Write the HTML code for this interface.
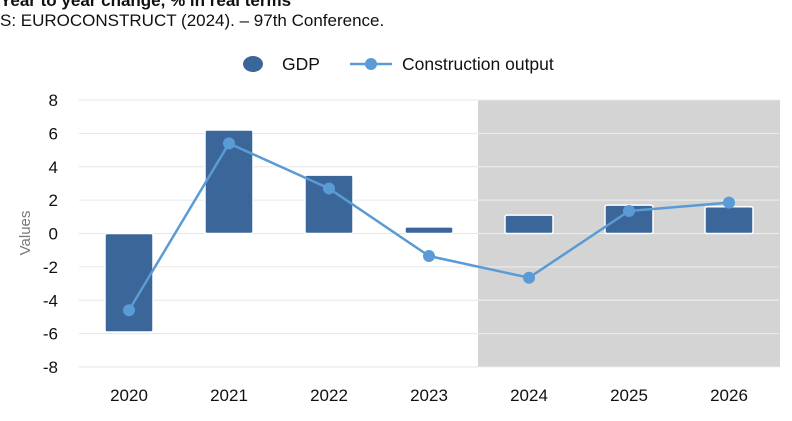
<!DOCTYPE html>
<html><head><meta charset="utf-8"><style>
body{margin:0;background:#fff;font-family:"Liberation Sans",Arial,sans-serif;}
svg text{font-family:"Liberation Sans",Arial,sans-serif;}
</style></head><body>
<svg width="792" height="416" xmlns="http://www.w3.org/2000/svg" id="chart">
<text x="0" y="6" font-size="17" font-weight="bold" fill="#111">Year to year change, % in real terms</text>
<text x="0" y="26" font-size="17" fill="#111">S: EUROCONSTRUCT (2024). – 97th Conference.</text>
<g>
<ellipse cx="253" cy="64" rx="10" ry="8" fill="#3a6699"/>
<text x="282" y="70" font-size="17.5" fill="#111">GDP</text>
<line x1="350" y1="64" x2="392" y2="64" stroke="#5b9bd5" stroke-width="2.5"/>
<circle cx="371" cy="64" r="6" fill="#5b9bd5"/>
<text x="402" y="70" font-size="17.5" fill="#111">Construction output</text>
</g>
<rect x="478" y="100" width="302" height="267" fill="#d4d4d4"/>
<g id="grid"></g>
<g id="bars"></g>
<g id="line"></g>
<g id="axes"></g>
<text transform="translate(30,233) rotate(-90)" text-anchor="middle" font-size="15" fill="#777">Values</text>
</svg>
<script>
const categories=["2020","2021","2022","2023","2024","2025","2026"];
const gdp=[-5.9,6.2,3.5,0.4,1.1,1.7,1.6];
const construction=[-4.6,5.4,2.7,-1.35,-2.65,1.35,1.85];
const yTicks=[8,6,4,2,0,-2,-4,-6,-8];
const NS="http://www.w3.org/2000/svg";
const L=79,R=779,T=100,B=367,yMin=-8,yMax=8;
const y=v=>T+(yMax-v)/(yMax-yMin)*(B-T);
const bw=(R-L)/categories.length;
const x=i=>L+bw*(i+0.5);
function mk(t,a,p){const e=document.createElementNS(NS,t);for(const k in a)e.setAttribute(k,a[k]);document.getElementById(p).appendChild(e);return e;}
yTicks.forEach(v=>{
 const g=mk("line",{x1:L,x2:R,y1:y(v),y2:y(v),stroke:"#e6e6e6","stroke-width":1},"grid");
 
 
 const g2=mk("line",{x1:478,x2:R,y1:y(v),y2:y(v),stroke:"#ececec","stroke-width":1},"grid");
 
 
 const t=mk("text",{x:58,y:y(v)+6,"text-anchor":"end","font-size":17,fill:"#111"},"axes");
 t.textContent=v;
 
 
});
categories.forEach((c,i)=>{
 const v=gdp[i];
 const top=Math.min(y(v),y(0)),h=Math.abs(y(v)-y(0));
 const b=mk("rect",{x:x(i)-24,y:top,width:48,height:h,rx:2,fill:"#3a6699",stroke:"#fff","stroke-width":1.5},"bars");
 
 
 const t=mk("text",{x:x(i),y:401,"text-anchor":"middle","font-size":17,fill:"#111"},"axes");
 t.textContent=c;
 
 
});
const pl=mk("polyline",{points:construction.map((v,i)=>x(i)+","+y(v)).join(" "),fill:"none",stroke:"#5b9bd5","stroke-width":2.5},"line");


construction.forEach((v,i)=>{
 const c=mk("circle",{cx:x(i),cy:y(v),r:6,fill:"#5b9bd5"},"line");
 
 
});
</script>
</body></html>
